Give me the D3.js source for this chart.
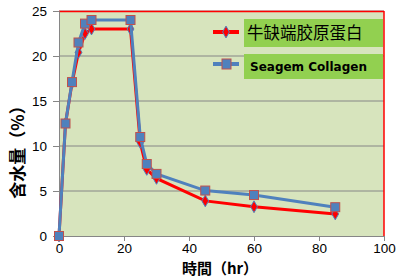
<!DOCTYPE html>
<meta charset="utf-8">
<script src="https://d3js.org/d3.v7.min.js"></script>
<style>
  body { margin: 0; background: #fff; }
  text { font-family: "Liberation Sans", Arial, sans-serif; }
</style>
<div id="chart"></div>
<script>

// data
var hours = [0, 2, 4, 6, 8, 10, 22, 25, 27, 30, 45, 60, 85];
var bovine = [0, 12.5, 17, 20.4, 22.5, 23, 23, 10.4, 7.4, 6.4, 3.9, 3.25, 2.45];
var seagem = [0, 12.5, 17.1, 21.5, 23.6, 24, 24, 11, 8, 6.9, 5.05, 4.55, 3.2];
var seriesNames = ["牛缺端胶原蛋白", "Seagem Collagen"];
var xTicks = [0, 20, 40, 60, 80, 100];
var yTicks = [0, 5, 10, 15, 20, 25];

var W = 398, H = 280;
var margin = {top: 11, right: 14, bottom: 44, left: 59},
    width = W - margin.left - margin.right,
    height = H - margin.top - margin.bottom;

var svg = d3.select("#chart")
  .append("svg")
    .attr("width", W)
    .attr("height", H);

var g = svg.append("g")
    .attr("transform", "translate(" + margin.left + "," + margin.top + ")");

var x = d3.scaleLinear().domain([0, 100]).range([0, width]);
var y = d3.scaleLinear().domain([0, 25]).range([height, 0]);

// plot background
g.append("rect")
  .attr("width", width)
  .attr("height", height)
  .style("fill", "#d7e4bd");

// gridlines
g.selectAll(".grid")
  .data(yTicks.slice(1))
  .enter()
  .append("line")
    .attr("x1", 0)
    .attr("x2", width)
    .attr("y1", function(d) { return y(d); })
    .attr("y2", function(d) { return y(d); })
    .attr("stroke", "#868686")
    .attr("stroke-width", 1);

// red border top / right
g.append("line").attr("x1", 0).attr("x2", width).attr("y1", 0.5).attr("y2", 0.5)
  .attr("stroke", "#ff0000").attr("stroke-width", 1.5);
g.append("line").attr("x1", width).attr("x2", width).attr("y1", 0).attr("y2", height)
  .attr("stroke", "#ff0000").attr("stroke-width", 1.5);

// axes
var xAxis = g.append("g")
  .attr("transform", "translate(0," + height + ")")
  .call(d3.axisBottom(x).tickValues(xTicks).tickSize(5).tickPadding(2));
var yAxis = g.append("g")
  .call(d3.axisLeft(y).tickValues(yTicks).tickSize(6).tickPadding(6));

[xAxis, yAxis].forEach(function(a) {
  a.select(".domain").attr("stroke", "#868686");
  a.selectAll(".tick line").attr("stroke", "#868686");
  a.selectAll(".tick text")
    .style("font-size", "13.5px")
    .style("font-family", "Liberation Sans, Arial, sans-serif")
    .attr("fill", "#000");
});

// lines
var line = d3.line()
  .x(function(d) { return x(d[0]); })
  .y(function(d) { return y(d[1]); });

var redData = hours.map(function(h, i) { return [h, bovine[i]]; });
var blueData = hours.map(function(h, i) { return [h, seagem[i]]; });

g.append("path")
  .datum(redData)
  .attr("d", line)
  .attr("fill", "none")
  .attr("stroke", "#ff0000")
  .attr("stroke-width", 3);

var diamond = d3.symbol().type(d3.symbolDiamond).size(40);
g.selectAll(".redpt")
  .data(redData)
  .enter()
  .append("path")
    .attr("d", diamond)
    .attr("transform", function(d) { return "translate(" + x(d[0]) + "," + y(d[1]) + ")"; })
    .attr("fill", "#ff0000")
    .attr("stroke", "#4f81bd")
    .attr("stroke-width", 1);

g.append("path")
  .datum(blueData)
  .attr("d", line)
  .attr("fill", "none")
  .attr("stroke", "#4f81bd")
  .attr("stroke-width", 3);

g.selectAll(".bluept")
  .data(blueData)
  .enter()
  .append("rect")
    .attr("x", function(d) { return x(d[0]) - 4.5; })
    .attr("y", function(d) { return y(d[1]) - 4.5; })
    .attr("width", 9)
    .attr("height", 9)
    .attr("fill", "#4f81bd")
    .attr("stroke", "#c0504d")
    .attr("stroke-width", 1);

// legend
var legend = svg.append("g");
legend.append("rect").attr("x", 244).attr("y", 19).attr("width", 139).attr("height", 28).style("fill", "#92d050");
legend.append("rect").attr("x", 244).attr("y", 54).attr("width", 139).attr("height", 25).style("fill", "#92d050");

legend.append("line").attr("x1", 213).attr("x2", 239).attr("y1", 32).attr("y2", 32)
  .attr("stroke", "#ff0000").attr("stroke-width", 4);
legend.append("path").attr("d", diamond).attr("transform", "translate(226,32)")
  .attr("fill", "#ff0000").attr("stroke", "#4f81bd");
legend.append("line").attr("x1", 213).attr("x2", 239).attr("y1", 64).attr("y2", 64)
  .attr("stroke", "#4f81bd").attr("stroke-width", 4);
legend.append("rect").attr("x", 222).attr("y", 59).attr("width", 9).attr("height", 10)
  .attr("fill", "#4f81bd").attr("stroke", "#c0504d");

legend.append("text").attr("x", 247).attr("y", 39).text(seriesNames[0])
  .style("font-size", "16.5px").style("font-family", "Noto Sans CJK SC");
legend.append("text").attr("x", 250).attr("y", 71).text(seriesNames[1])
  .style("font-size", "12px").style("font-weight", "bold")
  .style("font-family", "DejaVu Sans, sans-serif");

// axis titles
svg.append("text")
  .attr("x", 220).attr("y", 274)
  .attr("text-anchor", "middle")
  .text("時間（hr）")
  .style("font-size", "15px").style("font-weight", "bold")
  .style("font-family", "Noto Sans CJK JP");

svg.append("text")
  .attr("transform", "translate(24,148) rotate(-90)")
  .attr("text-anchor", "middle")
  .text("含水量（%）")
  .style("font-size", "17px").style("font-weight", "bold")
  .style("font-family", "Noto Sans CJK SC");

</script>
